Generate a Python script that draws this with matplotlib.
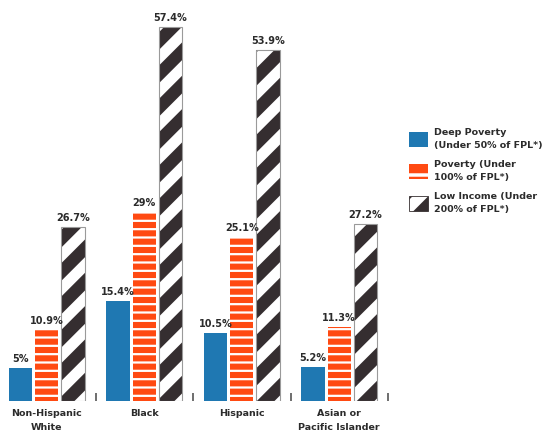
import matplotlib
matplotlib.use('Agg')
import matplotlib.pyplot as plt
from matplotlib.patches import Patch
import numpy as np

# data
groups = ['Non-Hispanic\nWhite', 'Black', 'Hispanic', 'Asian or\nPacific Islander']
deep_poverty = [5, 15.4, 10.5, 5.2]
poverty = [10.9, 29, 25.1, 11.3]
low_income = [26.7, 57.4, 53.9, 27.2]
series_labels = ['Deep Poverty\n(Under 50% of FPL*)',
                 'Poverty (Under\n100% of FPL*)',
                 'Low Income (Under\n200% of FPL*)']

BLUE = '#1f78b2'
ORANGE = '#ff4a12'
DARK = '#352e30'
TEXT = '#2b2b2b'

plt.rcParams['font.family'] = 'DejaVu Sans'


def hatch_lw(patches, lw):
    # per-patch hatch width (falls back to wrapping draw on older versions)
    for p in patches:
        if hasattr(p, 'set_hatch_linewidth'):
            p.set_hatch_linewidth(lw)
        else:
            orig = p.draw

            def draw(renderer, orig=orig, lw=lw):
                with plt.rc_context({'hatch.linewidth': lw}):
                    orig(renderer)
            p.draw = draw


fig = plt.figure(figsize=(5.44, 4.33), dpi=100)
W, H = 544, 433
# axes placed in pixels: left 0, bottom 32, width 388, height 401
ax = fig.add_axes([0 / W, 32 / H, 388 / W, 401 / H])

x = np.arange(len(groups))
bw = 0.24
off = 0.27

b1 = ax.bar(x - off, deep_poverty, bw, color=BLUE, linewidth=0)
b2 = ax.bar(x, poverty, bw, facecolor=ORANGE, edgecolor='white', hatch='--', linewidth=0)
b3 = ax.bar(x + off, low_income, bw, facecolor='white', edgecolor=DARK, hatch='/', linewidth=0)
ax.bar(x + off, low_income, bw, fill=False, edgecolor='#9a9a9a', linewidth=0.8)
hatch_lw(b2, 1.6)
hatch_lw(b3, 9.0)


def fmt(v):
    return f'{v:g}%'


for bars, vals in [(b1, deep_poverty), (b2, poverty), (b3, low_income)]:
    for rect, v in zip(bars, vals):
        ax.text(rect.get_x() + rect.get_width() / 2, v + 0.6, fmt(v),
                ha='center', va='bottom', fontsize=7, fontweight='bold', color=TEXT)

ax.set_xlim(-0.48, 3.5)
ax.set_ylim(0, 401 / 6.52)
for s in ax.spines.values():
    s.set_visible(False)
ax.set_yticks([])
ax.set_xticks(x)
ax.set_xticklabels(groups, fontsize=6.8, fontweight='bold', color=TEXT, linespacing=1.6)
ax.tick_params(axis='x', which='major', length=0, pad=6)
ax.set_xticks(x + 0.5, minor=True)
ax.tick_params(axis='x', which='minor', direction='in', length=6, width=1.2, color='#555555')

handles = [Patch(facecolor=BLUE, linewidth=0),
           Patch(facecolor=ORANGE, edgecolor='white', hatch='-', linewidth=0),
           Patch(facecolor='white', edgecolor=DARK, hatch='/', linewidth=0.6)]
leg = fig.legend(handles, series_labels, loc='center left', bbox_to_anchor=(400 / W, 1 - 171 / H),
                 frameon=False, fontsize=6.8, handlelength=2.1, handleheight=2.1,
                 handletextpad=0.6, labelspacing=1.0)
for t in leg.get_texts():
    t.set_fontweight('bold')
    t.set_color(TEXT)
    t.set_linespacing(1.6)
lh = leg.legend_handles
hatch_lw([lh[1]], 2.5)
hatch_lw([lh[2]], 9.0)

fig.savefig('out.png', dpi=100)
